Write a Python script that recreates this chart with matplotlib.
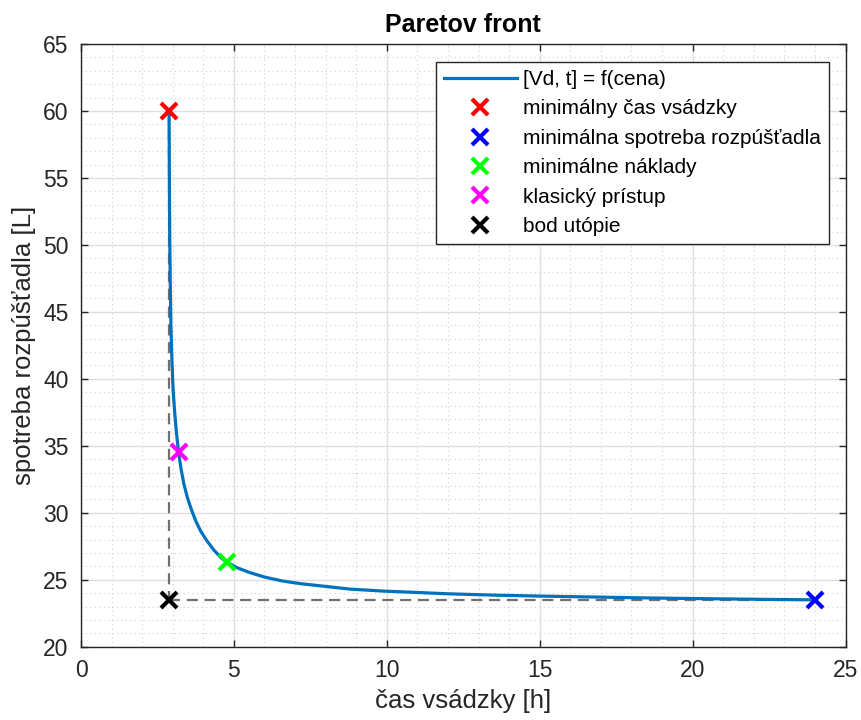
import numpy as np
import matplotlib
matplotlib.use('Agg')
import matplotlib.pyplot as plt
from matplotlib.ticker import MultipleLocator

# Paretov front: čas vsádzky [h] vs. spotreba rozpúšťadla [L]
t = [2.88, 2.89, 2.90, 2.92, 2.94, 2.97, 3.01, 3.06, 3.12, 3.19, 3.27, 3.36, 3.47,
     3.60, 3.75, 3.92, 4.12, 4.35, 4.60, 4.78, 5.10, 5.50, 6.00, 6.60, 7.20,
     7.80, 8.80, 9.90, 11.0, 12.0, 13.5, 15.0, 16.5, 18.0, 19.5, 21.0, 22.5, 24.0]
V = [60.0, 55.0, 51.0, 47.0, 44.0, 41.5, 39.3, 37.6, 36.0, 34.5, 33.3, 32.2, 31.2,
     30.3, 29.4, 28.6, 27.9, 27.2, 26.6, 26.3, 25.9, 25.55, 25.2, 24.9, 24.7,
     24.55, 24.3, 24.15, 24.05, 23.95, 23.85, 23.78, 23.72, 23.66, 23.61, 23.57, 23.53, 23.5]

t_min_cas, V_min_cas = 2.88, 60.0
t_min_spot, V_min_spot = 24.0, 23.5
t_min_nakl, V_min_nakl = 4.78, 26.3
t_klas, V_klas = 3.19, 34.5
t_utop, V_utop = 2.88, 23.5

plt.rcParams['font.family'] = ['Liberation Sans', 'DejaVu Sans']

fig = plt.figure(figsize=(8.61, 7.2), dpi=100)
ax = fig.add_axes([81 / 861, 1 - 646.7 / 720, (845.5 - 81) / 861, (646.7 - 44) / 720])

ax.plot([t_utop, t_utop], [V_min_cas, V_utop], color='#707070', lw=1.6, dashes=(5, 3), zorder=2)
ax.plot([t_utop, t_min_spot], [V_utop, V_utop], color='#707070', lw=1.6, dashes=(5, 3), zorder=2)

ax.plot(t, V, color='#0072BD', lw=2.3, label='[Vd, t] = f(cena)', zorder=3)
mk = dict(marker='x', ms=11, mew=3, ls='none', zorder=4)
ax.plot(t_min_cas, V_min_cas, color='#FF0000', label='minimálny čas vsádzky', **mk)
ax.plot(t_min_spot, V_min_spot, color='#0000FF', label='minimálna spotreba rozpúšťadla', **mk)
ax.plot(t_min_nakl, V_min_nakl, color='#00FF00', label='minimálne náklady', **mk)
ax.plot(t_klas, V_klas, color='#FF00FF', label='klasický prístup', **mk)
ax.plot(t_utop, V_utop, color='#000000', label='bod utópie', **mk)

ax.set_xlim(0, 25)
ax.set_ylim(20, 65)
ax.xaxis.set_major_locator(MultipleLocator(5))
ax.yaxis.set_major_locator(MultipleLocator(5))
ax.xaxis.set_minor_locator(MultipleLocator(1))
ax.yaxis.set_minor_locator(MultipleLocator(1))
ax.grid(which='major', color='#dfdfdf', lw=1.0, zorder=0)
ax.grid(which='minor', color='#cfcfcf', lw=0.8, ls=(0, (1, 3)), zorder=0)
ax.set_axisbelow(True)
ax.tick_params(which='major', direction='in', length=5, width=1, top=True, right=True,
               labelsize=16.5, colors='#262626', pad=9)
ax.tick_params(which='minor', length=0)
for s in ax.spines.values():
    s.set_color('#262626')
    s.set_linewidth(1.0)

ax.set_xlabel('čas vsádzky [h]', fontsize=18.5, color='#262626', labelpad=5)
ax.set_ylabel('spotreba rozpúšťadla [L]', fontsize=18.5, color='#262626', labelpad=5)
ax.set_title('Paretov front', fontsize=18, fontweight='bold', pad=9)

leg = ax.legend(loc='upper right', bbox_to_anchor=(0.978, 0.970), borderaxespad=0,
                fontsize=15, handlelength=3.5, handletextpad=0.3, labelspacing=0.5,
                borderpad=0.38, fancybox=False, framealpha=1, edgecolor='#262626')
leg.get_frame().set_linewidth(1.0)

fig.savefig('out.png', dpi=100)
